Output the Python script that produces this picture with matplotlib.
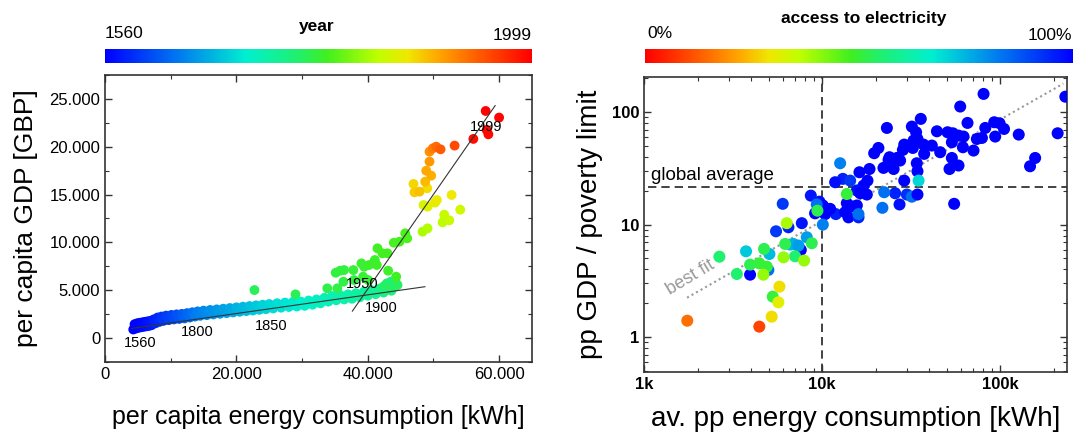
import numpy as np
import matplotlib
matplotlib.use("Agg")
import matplotlib.pyplot as plt
from matplotlib.colors import LinearSegmentedColormap
from matplotlib.ticker import FuncFormatter, MultipleLocator, LogLocator, NullFormatter

plt.rcParams['font.family'] = ['Liberation Sans', 'DejaVu Sans']

# ---------------- left panel: UK history 1560-1999 ----------------
year = [1560, 1570, 1580, 1590, 1600, 1610, 1620, 1630, 1640, 1650, 1660, 1670, 1680, 1690,
        1705, 1710, 1715, 1720, 1725, 1730, 1735, 1740, 1745, 1750, 1755, 1760, 1765, 1770,
        1775, 1780, 1785, 1790, 1795, 1800,
        1803, 1805, 1807, 1810, 1812, 1814, 1816, 1819, 1821, 1823, 1825, 1828, 1830, 1832,
        1834, 1837, 1839, 1841, 1843, 1846, 1848, 1850,
        1852, 1854, 1856, 1858, 1860, 1862, 1864, 1866, 1868, 1870, 1872, 1874, 1876, 1878,
        1880, 1882, 1884, 1886, 1888, 1890, 1892, 1894,
        1896, 1898, 1900, 1902, 1904, 1906, 1908, 1910, 1912, 1913,
        1915, 1917, 1919, 1921, 1923, 1927, 1929,
        1931, 1932,
        1937, 1938, 1939, 1940, 1941, 1942, 1943, 1944, 1945, 1946, 1947, 1948, 1949, 1950,
        1951, 1952, 1953, 1954, 1955, 1956, 1957, 1958, 1959, 1960,
        1961, 1962, 1963, 1964, 1965, 1966,
        1967, 1968, 1969, 1970, 1971, 1972,
        1973, 1974, 1975, 1976, 1977, 1978, 1980,
        1981, 1983, 1985, 1987, 1989,
        1991, 1993, 1995, 1997, 1999]
energy = [4300, 4500, 4700, 4900, 5100, 5300, 5500, 5700, 5900, 6100, 6300, 6500, 6700, 6900,
          7100, 7400, 7700, 8000, 8300, 8600, 8900, 9300, 9700, 10100, 10500, 10900, 11300, 11700,
          12100, 12500, 12900, 13300, 13700, 14100,
          14500, 15000, 15500, 16000, 16500, 17000, 17500, 18000, 18500, 19000, 19500, 20000,
          20500, 21000, 21500, 22000, 22500, 23000, 23500, 24000, 24500, 25000,
          25600, 26200, 26800, 27400, 28000, 28600, 29200, 29800, 30400, 31000, 31600, 32200,
          32800, 33400, 34000, 34600, 35200, 35800, 36400, 37000, 37600, 38200,
          38800, 39400, 40000, 40600, 41200, 41800, 42400, 43000, 43600, 44200,
          42900, 43510, 44270, 44020, 43260, 42490, 44530,
          22750, 29000,
          33840, 35370, 36290, 37910, 35120, 35780, 36390, 37810, 39290, 40050, 39030, 39440,
          40200, 41070, 41370, 43100, 44320, 41480, 42240, 43000, 43970, 44830, 45700, 46000,
          48340, 49100, 51390, 51640, 52410, 54080,
          48490, 49100, 50220, 50520, 52760, 49050,
          46960, 47110, 47880, 48740, 49660, 48900, 49400,
          49400, 49910, 50420, 51080, 53220,
          56070, 58360, 58100, 59990, 57950]
gdp = [900, 1450, 1000, 1550, 1070, 1600, 1130, 1650, 1180, 1700, 1230, 1750, 1270, 1800,
       1350, 1950, 1550, 2150, 1700, 2250, 1800, 2350, 1880, 2420, 1950, 2480, 2000, 2530,
       2060, 2610, 2150, 2700, 2250, 2790,
       2330, 2870, 2400, 2940, 2470, 3000, 2540, 3070, 2610, 3140, 2680, 3210,
       2750, 3280, 2820, 3350, 2880, 3420, 2960, 3490, 3020, 3560,
       3100, 3640, 3180, 3710, 3250, 3780, 3300, 3820, 3370, 3930, 3490, 4040,
       3630, 4210, 3810, 4400, 3950, 4500, 4040, 4570, 4110, 4690,
       4270, 4850, 4430, 5010, 4590, 5180, 4760, 5350, 4950, 5550,
       5720, 5890, 5790, 5370, 5200, 5440, 5540,
       5020, 4570,
       5200, 5200, 5890, 6070, 6830, 7040, 7110, 7110, 6420, 6070, 7810, 7460,
       7640, 8160, 7640, 7040, 6420, 9380, 8860, 8860, 9970, 10080, 10950, 10430,
       11120, 11470, 12100, 12900, 12310, 13420,
       13910, 13740, 14160, 14430, 14960, 15660,
       16110, 15240, 15310, 16350, 16980, 17500, 18450,
       19490, 19840, 20010, 19730, 20120,
       20820, 21300, 21760, 23050, 23740]

# how the year runs along the colour bar
year_nodes = [1560, 1700, 1750, 1800, 1850, 1900, 1913, 1930, 1960, 1961, 1967, 1972, 1980, 1989, 1990, 1999]
pos_nodes = [0.0, 0.03, 0.10, 0.18, 0.30, 0.40, 0.43, 0.47, 0.53, 0.62, 0.67, 0.72, 0.80, 0.90, 0.98, 1.0]

# two linear fits (end points)
fit1_x = [4070, 48700]
fit1_y = [1010, 5370]
fit2_x = [37660, 59390]
fit2_y = [2820, 24300]

year_labels = ['1560', '1800', '1850', '1900', '1950', '1999']
year_label_x = [5340, 14000, 25300, 42100, 39100, 57950]
year_label_y = [-520, 630, 1260, 3140, 5650, 22070]

# ---------------- right panel: countries ----------------
cons_k = [80.6, 232, 59.6, 35.8, 23.1, 31.9, 33.7, 44.1, 50.6, 54.2, 58.3, 62.2, 65.5, 82.4,
          92.5, 99.1, 105, 127, 210, 93.7, 73.9, 78.9, 70.8, 61.7, 53.5, 46.0, 41.3, 37.1,
          34.3, 32.6, 28.9, 28.4, 32.3, 37.4, 34.0, 34.3, 28.9, 51.9, 58.3, 53.5, 147, 157,
          20.7, 19.6, 26.3, 23.6, 24.6, 27.4, 22.1, 25.2, 23.9, 18.45, 16.2, 17.97, 17.07,
          15.66, 17.82, 13.07, 11.83, 14.37, 12.62, 16.35, 13.76, 14.68, 15.66, 14.06, 16.0,
          11.94, 13.47, 11.09, 10.4, 9.66, 10.09, 9.13, 8.64, 9.33, 10.09, 7.69, 6.47, 5.51,
          6.01, 7.59, 3.94, 4.99, 25.7, 27.2, 29.9, 31.9, 34.3, 34.8, 22.3, 21.8, 55.1, 16.0,
          3.74, 5.06, 6.61, 6.90, 7.36, 8.20,
          2.65, 3.32, 3.94, 4.44, 4.72, 4.89, 4.68, 6.20, 7.05, 8.75, 5.28, 9.41, 13.76,
          6.33, 6.07, 7.92,
          5.76, 5.68, 5.21,
          1.75, 4.44]
gdp_ratio = [145, 137, 112, 87.0, 72.3, 74.3, 66.2, 67.5, 66.2, 64.8, 61.8, 60.6, 80.1, 72.3,
             81.2, 79.6, 70.8, 63.1, 64.8, 60.6, 57.7, 58.9, 45.5, 48.7, 53.9, 44.0, 50.4, 51.4,
             57.7, 55.8, 51.4, 46.1, 48.0, 42.5, 35.1, 29.8, 24.6, 31.2, 33.5, 39.1, 33.0, 39.1,
             48.0, 43.1, 39.1, 37.6, 34.6, 37.1, 31.9, 31.2, 39.7, 31.2, 29.2, 24.6, 22.2,
             20.1, 18.5, 25.5, 23.8, 24.6, 35.1, 19.0, 15.5, 14.5, 14.8, 11.6, 11.6,
             12.4, 12.9, 13.8, 12.4, 16.0, 14.8, 12.6, 18.1, 15.1, 10.0, 10.3, 9.47, 8.72,
             15.3, 5.95, 3.59, 3.95, 19.0, 15.1, 18.5, 17.7, 18.5, 24.6, 19.4, 14.1, 15.3, 12.4,
             5.79, 5.48, 6.64, 6.73, 6.51, 7.72,
             5.19, 3.64, 4.41, 4.53, 6.08, 4.23, 3.59, 6.73, 5.23, 6.83, 2.29, 13.3, 18.7,
             10.3, 5.12, 4.79,
             2.81, 2.04, 1.52,
             1.40, 1.24]
access = [100, 100, 100, 100, 100, 100, 100, 100, 100, 100, 100, 100, 100, 100,
          100, 100, 100, 100, 100, 100, 100, 100, 100, 100, 100, 100, 100, 100,
          100, 100, 100, 100, 100, 100, 100, 100, 100, 100, 100, 100, 100, 100,
          100, 100, 100, 100, 100, 100, 100, 100, 100, 100, 100, 100, 100,
          98, 100, 95, 98, 92, 82, 100, 100, 100, 100, 100, 95,
          95, 100, 100, 100, 98, 100, 100, 97, 84, 82, 97, 95, 92,
          92, 100, 100, 84, 95, 98, 93, 84, 100, 70, 84, 84, 100, 84,
          72, 74, 73, 75, 78, 78,
          55, 55, 52, 50, 52, 50, 40, 52, 55, 52, 50, 52, 50,
          38, 40, 40,
          28, 31, 28,
          15, 9]
global_average = 21.8
best_fit_x = [1744, 226000]
best_fit_y = [2.24, 179]

# ---------------- colours ----------------
cmap = LinearSegmentedColormap.from_list('jetlike', [
    (0.00, '#0000ff'), (0.18, '#0080f0'), (0.33, '#00f0d0'), (0.45, '#20f070'),
    (0.52, '#40f020'), (0.64, '#c0ff00'), (0.71, '#f0e800'), (0.78, '#ffa800'),
    (0.87, '#ff6000'), (1.00, '#ff0000')])
cmap_r = cmap.reversed()

W, H = 1073, 432
fig = plt.figure(figsize=(W / 100, H / 100), dpi=100)


def box(x0, y0, x1, y1):
    # pixel box -> figure fraction
    return [x0 / W, 1 - y1 / H, (x1 - x0) / W, (y1 - y0) / H]


edge = '#333333'

# left scatter
ax1 = fig.add_axes(box(105, 75, 532, 362))
cpos = np.interp(year, year_nodes, pos_nodes)
ax1.scatter(energy, gdp, c=cmap(cpos), s=50, edgecolors='none', zorder=2)
ax1.plot(fit1_x, fit1_y, color='#333333', lw=0.8, zorder=3)
ax1.plot(fit2_x, fit2_y, color='#333333', lw=0.8, zorder=3)
for t, x, y in zip(year_labels, year_label_x, year_label_y):
    ax1.text(x, y, t, ha='center', va='center', fontsize=10.5, zorder=4)
ax1.set_xlim(0, 65000)
ax1.set_ylim(-2500, 27500)
ax1.xaxis.set_major_locator(MultipleLocator(20000))
ax1.xaxis.set_minor_locator(MultipleLocator(10000))
ax1.yaxis.set_major_locator(MultipleLocator(5000))
ax1.yaxis.set_minor_locator(MultipleLocator(2500))
dotted = FuncFormatter(lambda v, p: f'{v:,.0f}'.replace(',', '.'))
ax1.xaxis.set_major_formatter(dotted)
ax1.yaxis.set_major_formatter(dotted)
ax1.set_xlabel('per capita energy consumption [kWh]', fontsize=18, labelpad=17)
ax1.set_ylabel('per capita GDP [GBP]', fontsize=19, labelpad=8)

# right scatter
ax2 = fig.add_axes(box(644, 77, 1067, 372))
cons = [c * 1000 for c in cons_k]
ax2.scatter(cons, gdp_ratio, c=cmap_r(np.array(access) / 100), s=75, edgecolors='none', zorder=3)
ax2.plot(best_fit_x, best_fit_y, color='#999999', lw=1.5, ls=(0, (1, 1.5)), zorder=2)
ax2.axvline(10000, color='#222222', lw=1.2, ls=(0, (5, 3)), zorder=1)
ax2.plot([1050, 240000], [global_average, global_average], color='#222222', lw=1.2,
         ls=(0, (5, 3)), zorder=1)
ax2.text(1100, 23, 'global average', fontsize=13.5, ha='left', va='bottom')
ax2.text(1830, 3.4, 'best fit', fontsize=13, color='#999999', rotation=31,
         ha='center', va='center')
ax2.set_xscale('log')
ax2.set_yscale('log')
ax2.set_xlim(1000, 237000)
ax2.set_ylim(0.49, 205)
ax2.xaxis.set_minor_locator(LogLocator(base=10, subs=np.arange(2, 10)))
ax2.yaxis.set_minor_locator(LogLocator(base=10, subs=np.arange(2, 10)))
ax2.xaxis.set_minor_formatter(NullFormatter())
ax2.yaxis.set_minor_formatter(NullFormatter())
ax2.set_xticks([1000, 10000, 100000])
ax2.set_xticklabels(['1k', '10k', '100k'], fontweight='bold')
ax2.set_yticks([1, 10, 100])
ax2.set_yticklabels(['1', '10', '100'], fontweight='bold')
ax2.set_xlabel('av. pp energy consumption [kWh]', fontsize=20, labelpad=10)
ax2.set_ylabel('pp GDP / poverty limit', fontsize=20, labelpad=6)

for ax in (ax1, ax2):
    for s in ax.spines.values():
        s.set_color(edge)
        s.set_linewidth(1.2)
    ax.tick_params(which='both', direction='in', top=True, right=True, color=edge,
                   labelsize=12)
    ax.tick_params(which='major', length=5, width=1)
    ax.tick_params(which='minor', length=3, width=0.8)

# colour bars
grad = np.linspace(0, 1, 256)[None, :]
cax1 = fig.add_axes(box(105, 49, 532, 63))
cax1.imshow(grad, aspect='auto', cmap=cmap)
cax1.set_axis_off()
cax2 = fig.add_axes(box(645, 49, 1073, 63))
cax2.imshow(grad, aspect='auto', cmap=cmap_r)
cax2.set_axis_off()

fig.text(105 / W, 1 - 33 / H, '1560', fontsize=12.5, ha='left', va='center')
fig.text(532 / W, 1 - 36 / H, '1999', fontsize=12.5, ha='right', va='center')
fig.text(317 / W, 1 - 26 / H, 'year', fontsize=12.5, fontweight='bold', ha='center', va='center')
fig.text(647 / W, 1 - 34 / H, '0%', fontsize=12.5, ha='left', va='center')
fig.text(1072 / W, 1 - 35 / H, '100%', fontsize=12.5, ha='right', va='center')
fig.text(864 / W, 1 - 19 / H, 'access to electricity', fontsize=12.5, fontweight='bold',
         ha='center', va='center')

fig.savefig('out.png', dpi=100)
